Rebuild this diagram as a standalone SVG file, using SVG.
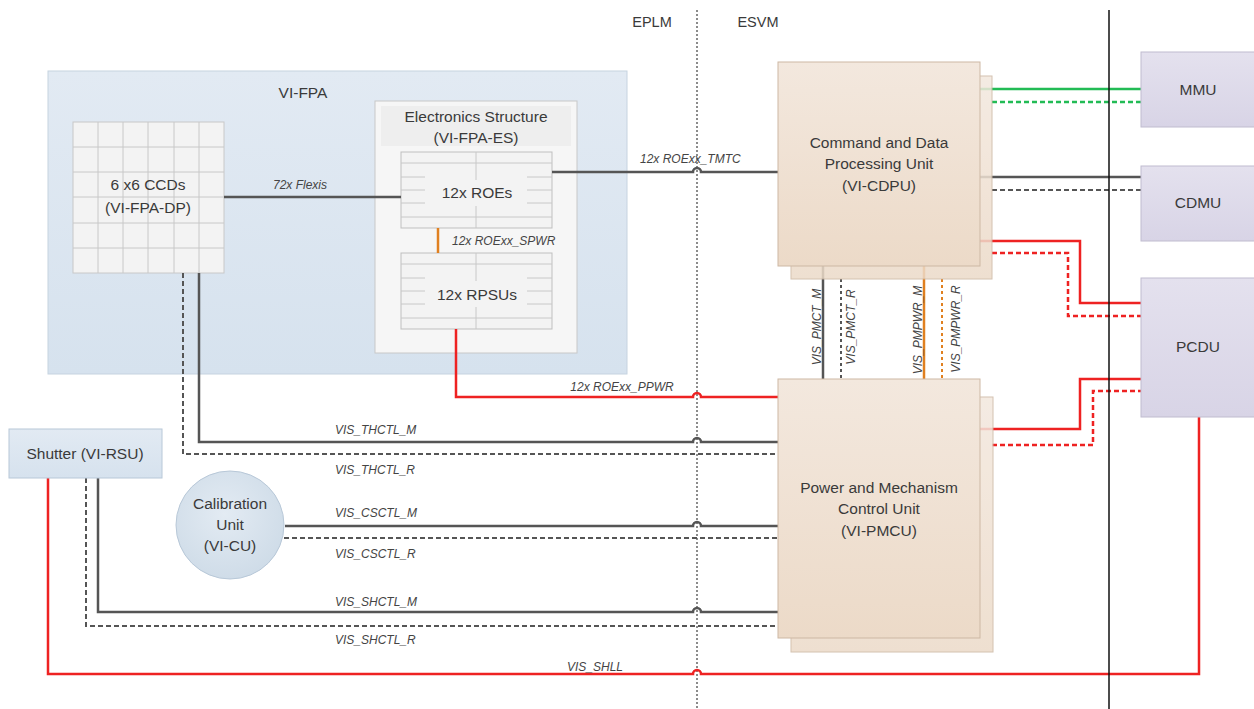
<svg xmlns="http://www.w3.org/2000/svg" width="1254" height="709" viewBox="0 0 1254 709">
<style>
text{font-family:"Liberation Sans",Arial,sans-serif;fill:#3a3a3a}
.t{font-size:15.5px;text-anchor:middle}
.l{font-size:12px;font-style:italic;fill:#444}
.g{stroke:#555;stroke-width:2.5;fill:none}
.gd{stroke:#555;stroke-width:2;fill:none;stroke-dasharray:5 3}
.r{stroke:#ee2222;stroke-width:2.5;fill:none}
.rd{stroke:#ee2222;stroke-width:2.5;fill:none;stroke-dasharray:5 3}
.gr{stroke:#22bb55;stroke-width:2.5;fill:none}
.grd{stroke:#22bb55;stroke-width:2.5;fill:none;stroke-dasharray:5 3}
.o{stroke:#e08020;stroke-width:2.5;fill:none}
.od{stroke:#e08020;stroke-width:2;fill:none;stroke-dasharray:3 3}
.cell{stroke:#c8c8c8;stroke-width:1;fill:none}
.peach{fill:url(#peach);stroke:#cdb8a4;stroke-width:1}
.lav{fill:url(#lav);stroke:#c0bccf;stroke-width:1}
</style>
<defs>
<linearGradient id="blue" x1="0" y1="0" x2="0" y2="1"><stop offset="0" stop-color="#e2eaf3"/><stop offset="1" stop-color="#d6e2ee"/></linearGradient>
<linearGradient id="peach" x1="0" y1="0" x2="0" y2="1"><stop offset="0" stop-color="#f3e8de"/><stop offset="1" stop-color="#ecdac8"/></linearGradient>
<linearGradient id="lav" x1="0" y1="0" x2="0" y2="1"><stop offset="0" stop-color="#e4e1ee"/><stop offset="1" stop-color="#d8d4e6"/></linearGradient>
<radialGradient id="circ" cx="0.45" cy="0.4" r="0.6"><stop offset="0" stop-color="#e3ebf3"/><stop offset="1" stop-color="#cfdce8"/></radialGradient>
</defs>

<g id="separators">
<line x1="697" y1="10" x2="697" y2="709" stroke="#666" stroke-width="1.5" stroke-dasharray="2 2"/>
<text x="652" y="27" class="t" style="font-size:14.5px">EPLM</text>
<text x="758" y="27" class="t" style="font-size:14.5px">ESVM</text>
</g>

<g id="vi-fpa">
<rect x="48" y="71" width="579" height="303" fill="url(#blue)" stroke="#c6d3e0"/>
<text x="303" y="98" class="t">VI-FPA</text>
</g>

<g id="ccds">
<rect x="73" y="122" width="151" height="151" fill="#f3f3f3" stroke="#c8c8c8"/>
<path class="cell" d="M98 122V273M123 122V273M148 122V273M174 122V273M199 122V273M73 147H224M73 172H224M73 197H224M73 223H224M73 248H224"/>
<text x="148" y="190" class="t">6 x6 CCDs</text>
<text x="148" y="213" class="t">(VI-FPA-DP)</text>
</g>

<g id="es">
<rect x="375" y="101" width="202" height="252" fill="#f6f6f6" stroke="#c8c8c8"/>
<rect x="381" y="106" width="190" height="40" fill="#eeeeee"/>
<text x="476" y="122" class="t">Electronics Structure</text>
<text x="476" y="143" class="t">(VI-FPA-ES)</text>
</g>

<g id="roes">
<rect x="401" y="152" width="151" height="76" fill="#f3f3f3" stroke="#bfbfbf"/>
<path class="cell" d="M401 163H552M401 217H552M476 152V180M476 206V228M401 177H425M527 177H552M401 190H425M527 190H552M401 203H425M527 203H552"/>
<text x="477" y="198" class="t">12x ROEs</text>
</g>

<g id="rpsus">
<rect x="401" y="253" width="151" height="76" fill="#f3f3f3" stroke="#bfbfbf"/>
<path class="cell" d="M401 264H552M401 318H552M476 253V281M476 307V329M401 278H425M527 278H552M401 291H425M527 291H552M401 304H425M527 304H552"/>
<text x="477" y="300" class="t">12x RPSUs</text>
</g>

<g id="connectors">
<path class="g" d="M224 197H401"/>
<path class="o" d="M438 228V253"/>
<path class="g" d="M552 172H693a4 4 0 0 1 8 0H778"/>
<path class="r" d="M456 329V397H693a4 4 0 0 1 8 0H778"/>
<path class="g" d="M199 273V442H693a4 4 0 0 1 8 0H778"/>
<path class="gd" d="M183 273V454H778"/>
<path class="g" d="M285 526H693a4 4 0 0 1 8 0H778"/>
<path class="gd" d="M284 538H778"/>
<path class="g" d="M98 478V612H693a4 4 0 0 1 8 0H778"/>
<path class="gd" d="M86 478V626H778"/>
<path class="r" d="M48 478V674H693a4 4 0 0 1 8 0H1199V417"/>
<path class="g" d="M823 266V379"/>
<path class="gd" d="M841 279V379" style="stroke-dasharray:3 3"/>
<path class="o" d="M924 266V379"/>
<path class="od" d="M942 279V379"/>
<path class="gr" d="M980 89H1141"/>
<path class="grd" d="M992 102H1141"/>
<path class="g" d="M980 177H1141"/>
<path class="gd" d="M992 190H1141"/>
<path class="r" d="M980 241H1080V303H1141"/>
<path class="rd" d="M992 253H1068V316H1141"/>
<path class="r" d="M980 429H1080V379H1141"/>
<path class="rd" d="M992 445H1093V391H1141"/>
<text x="300" y="189" class="l" text-anchor="middle">72x Flexis</text>
<text x="452" y="245" class="l">12x ROExx_SPWR</text>
<text x="640" y="163" class="l">12x ROExx_TMTC</text>
<text x="622" y="391" class="l" text-anchor="middle">12x ROExx_PPWR</text>
<text x="335" y="434" class="l">VIS_THCTL_M</text>
<text x="335" y="474" class="l">VIS_THCTL_R</text>
<text x="335" y="517" class="l">VIS_CSCTL_M</text>
<text x="335" y="558" class="l">VIS_CSCTL_R</text>
<text x="335" y="606" class="l">VIS_SHCTL_M</text>
<text x="335" y="644" class="l">VIS_SHCTL_R</text>
<text x="595" y="671" class="l" text-anchor="middle">VIS_SHLL</text>
<text transform="translate(821 327) rotate(-90)" class="l" text-anchor="middle">VIS_PMCT_M</text>
<text transform="translate(855 327) rotate(-90)" class="l" text-anchor="middle">VIS_PMCT_R</text>
<text transform="translate(922 330) rotate(-90)" class="l" text-anchor="middle">VIS_PMPWR_M</text>
<text transform="translate(960 329) rotate(-90)" class="l" text-anchor="middle">VIS_PMPWR_R</text>
</g>

<g id="cdpu">
<rect x="791" y="76" width="201" height="203" class="peach" style="opacity:0.85"/>
<rect x="778" y="62" width="202" height="204" class="peach"/>
<text x="879" y="148" class="t">Command and Data</text>
<text x="879" y="169" class="t">Processing Unit</text>
<text x="879" y="191" class="t">(VI-CDPU)</text>
</g>

<g id="pmcu">
<rect x="791" y="397" width="202" height="255" class="peach" style="opacity:0.85"/>
<rect x="778" y="379" width="202" height="259" class="peach"/>
<text x="879" y="493" class="t">Power and Mechanism</text>
<text x="879" y="514" class="t">Control Unit</text>
<text x="879" y="536" class="t">(VI-PMCU)</text>
</g>

<g id="mmu">
<rect x="1141" y="52" width="120" height="75" class="lav"/>
<text x="1198" y="95" class="t">MMU</text>
</g>
<g id="cdmu">
<rect x="1141" y="166" width="120" height="75" class="lav"/>
<text x="1198" y="208" class="t">CDMU</text>
</g>
<g id="pcdu">
<rect x="1141" y="278" width="120" height="139" class="lav"/>
<text x="1198" y="352" class="t">PCDU</text>
</g>

<g id="shutter">
<rect x="9" y="429" width="153" height="49" fill="url(#blue)" stroke="#b8c8d8"/>
<text x="85" y="459" class="t">Shutter (VI-RSU)</text>
</g>

<g id="cu">
<circle cx="230" cy="525" r="54" fill="url(#circ)" stroke="#b8c8d8"/>
<text x="230" y="509" class="t">Calibration</text>
<text x="230" y="530" class="t">Unit</text>
<text x="230" y="551" class="t">(VI-CU)</text>
</g>

<g id="boundary">
<line x1="1109" y1="10" x2="1109" y2="709" stroke="#111" stroke-width="1.5"/>
</g>
</svg>
